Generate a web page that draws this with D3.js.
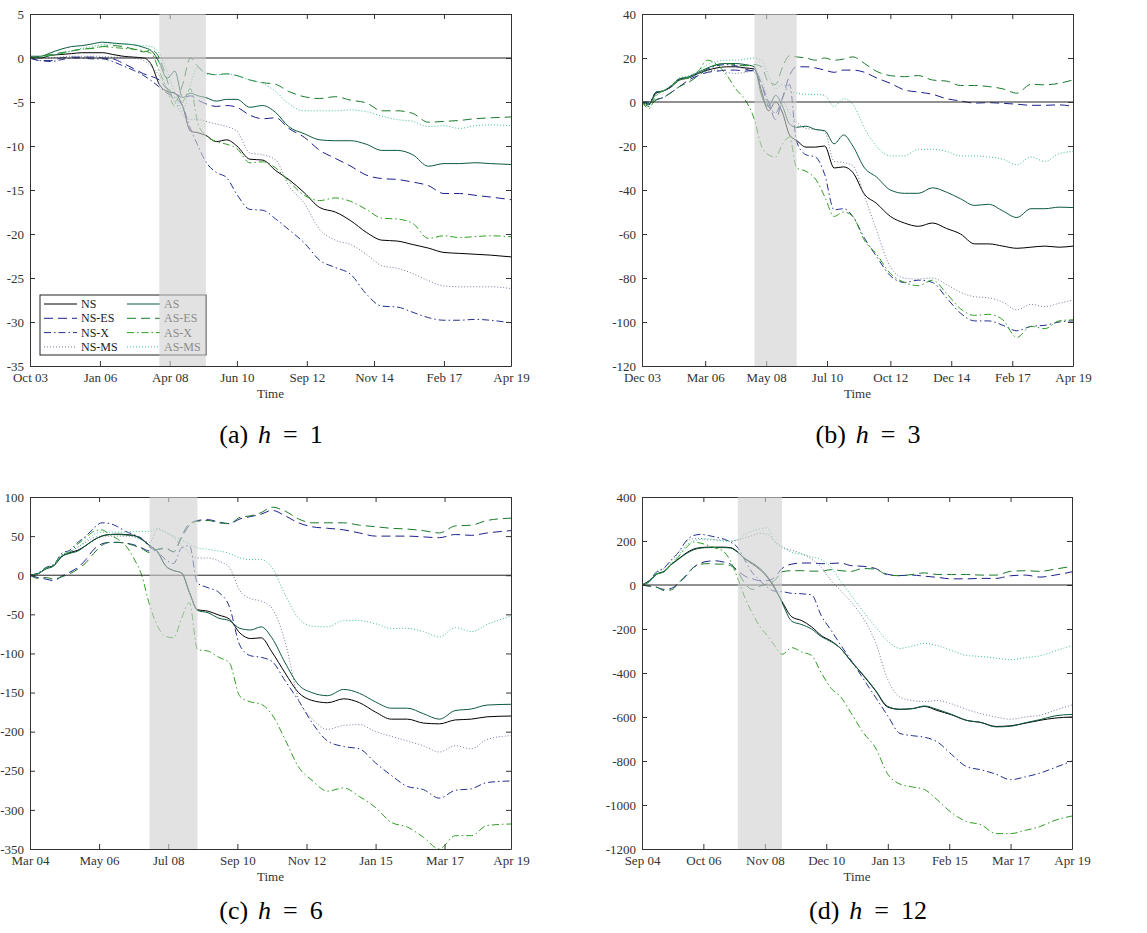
<!DOCTYPE html>
<html>
<head>
<meta charset="utf-8">
<script src="https://cdn.jsdelivr.net/npm/d3@7"></script>
<style>
body { margin: 0; background: #fff; }
svg text { font-family: "Liberation Serif", "Times New Roman", serif; }
</style>
</head>
<body>
<svg id="fig" width="1147" height="933"></svg>
<script>
"use strict";

const SERIES = ["NS", "NS-ES", "NS-X", "NS-MS", "AS", "AS-ES", "AS-X", "AS-MS"];
const RECESSION = ["2007-12", "2009-06"];
const END_MONTH = "2019-04";
const SERIF = "'Liberation Serif', 'Times New Roman', serif";

// (a) h = 1, months counted from Oct 2003
const A_TICKS = ["2003-10", "2006-01", "2008-04", "2010-06", "2012-09", "2014-11", "2017-02", "2019-04"];
const A_MONTHS = [0, 4, 8, 12, 16, 20, 24, 28, 32, 36, 40, 44, 47, 50, 53, 56, 59, 62, 65, 68, 72, 76, 80, 85, 90, 95, 100, 106, 112, 118, 124, 130, 136, 142, 148, 154, 160, 166, 172, 178, 186];
const A_NS = [0.1, 0.0, 0.3, 0.4, 0.5, 0.6, 0.6, 0.6, 0.4, 0.2, 0.1, 0.0, -0.8, -3.0, -3.8, -4.0, -5.5, -8.3, -8.5, -8.8, -9.5, -9.3, -10.0, -11.5, -11.6, -12.8, -13.8, -15.3, -17.0, -17.5, -18.5, -19.8, -20.7, -20.8, -21.2, -21.6, -22.1, -22.2, -22.3, -22.4, -22.6];
const A_NS_ES = [0.0, -0.3, -0.3, 0.0, 0.1, 0.1, 0.1, 0.0, -0.1, -0.6, -1.2, -1.8, -2.1, -2.5, -3.5, -4.0, -4.5, -4.3, -4.8, -5.2, -5.5, -5.4, -5.6, -6.5, -6.9, -6.8, -8.0, -9.0, -10.5, -11.4, -12.3, -13.3, -13.7, -13.8, -14.1, -14.5, -15.4, -15.4, -15.6, -15.8, -16.1];
const A_NS_X = [0.0, -0.3, -0.4, -0.2, 0.0, 0.0, -0.1, -0.1, -0.4, -0.9, -1.4, -2.0, -2.6, -3.3, -4.0, -4.5, -5.5, -8.0, -10.0, -11.8, -13.0, -13.6, -15.5, -17.2, -17.3, -18.3, -19.5, -21.0, -23.0, -23.8, -24.6, -26.8, -28.2, -28.3, -28.9, -29.5, -29.8, -29.8, -29.7, -29.8, -30.1];
const A_NS_MS = [0.1, 0.0, 0.0, 0.1, 0.2, 0.2, 0.2, 0.2, 0.1, 0.1, 0.0, -0.3, -1.0, -2.0, -3.5, -5.0, -6.5, -7.0, -7.0, -7.2, -7.5, -7.8, -8.3, -10.8, -11.0, -11.6, -14.5, -16.5, -19.5, -20.7, -21.2, -22.3, -23.6, -23.9, -24.5, -25.3, -25.9, -26.0, -26.0, -26.0, -26.2];
const A_AS = [0.2, 0.2, 0.6, 1.0, 1.3, 1.4, 1.6, 1.8, 1.7, 1.6, 1.5, 1.2, 0.8, -0.5, -2.3, -1.5, -4.5, -4.0, -4.3, -4.5, -4.9, -4.7, -4.7, -5.6, -5.4, -6.2, -7.8, -8.6, -9.3, -9.4, -9.4, -9.8, -10.5, -10.5, -11.0, -12.3, -12.0, -12.0, -11.9, -12.0, -12.1];
const A_AS_ES = [0.0, 0.2, 0.4, 0.6, 0.8, 1.0, 1.1, 1.3, 1.4, 1.3, 1.0, 0.7, 0.9, 0.0, -2.5, -5.0, -3.0, 0.0, -1.0, -1.7, -1.9, -1.8, -2.0, -2.5, -2.8, -3.0, -3.8, -4.4, -4.6, -4.4, -4.8, -5.1, -6.0, -6.0, -6.3, -7.3, -7.2, -7.1, -6.9, -6.8, -6.7];
const A_AS_X = [0.0, 0.1, 0.3, 0.5, 0.8, 1.0, 1.1, 1.3, 1.2, 1.1, 1.0, 0.8, 0.5, -1.5, -3.5, -5.5, -5.0, -3.5, -7.5, -8.8, -9.5, -9.8, -10.3, -11.9, -11.8, -12.5, -14.0, -15.6, -16.2, -15.9, -16.3, -17.2, -18.2, -18.3, -18.8, -20.5, -20.2, -20.4, -20.3, -20.2, -20.3];
const A_AS_MS = [0.0, 0.1, 0.3, 0.5, 0.8, 1.1, 1.3, 1.5, 1.6, 1.6, 1.5, 1.4, 1.3, 0.5, -1.5, -4.0, -6.0, -3.0, -1.0, -1.8, -1.9, -1.8, -2.0, -2.5, -2.9, -3.8, -5.2, -6.0, -6.0, -6.0, -5.9, -6.1, -6.6, -7.0, -7.2, -7.8, -7.7, -8.0, -7.7, -7.6, -7.7];

// (b) h = 3, months counted from Dec 2003
const B_TICKS = ["2003-12", "2006-03", "2008-05", "2010-07", "2012-10", "2014-12", "2017-02", "2019-04"];
const B_MONTHS = [0, 3, 6, 9, 12, 16, 20, 24, 28, 32, 36, 40, 44, 48, 51, 54, 57, 60, 63, 66, 70, 74, 78, 82, 86, 90, 95, 100, 106, 112, 118, 124, 130, 136, 142, 148, 154, 160, 166, 172, 178, 184];
const B_NS = [0, -1, 4, 5, 6.5, 10, 11, 13, 14.5, 15.5, 16, 16, 15.5, 15, 5, -4, 0, -5, -15, -17.5, -20.5, -20.5, -20, -30, -29.5, -32, -42, -46, -52, -55, -56.5, -55, -57.5, -60, -64.5, -64.5, -65.5, -66.5, -66, -65.5, -66, -65.5];
const B_NS_ES = [0, -1, 1, 2, 4, 7, 10, 12, 13.5, 14, 14.5, 14.5, 14, 14.5, 8, 0, -8, 2, 12, 16, 16, 15.5, 14.5, 13.5, 14.5, 14.5, 13.5, 11, 8.5, 5.5, 4.5, 3.5, 1.5, 0.5, -0.5, -0.3, -0.6, -1, -1.5, -1.5, -1.3, -2];
const B_NS_X = [0, 0, 4.5, 5, 7, 10.5, 11, 13, 15, 16.5, 17, 16.5, 15, 13.5, 8, -2, -5, 2, 8, -18, -24, -25, -33, -49, -48.5, -52, -62, -70, -79, -82, -81, -82, -89, -96, -99.5, -99.5, -101.5, -104, -102, -101.5, -100, -99.5];
const B_NS_MS = [0, 0, 3, 5, 7, 10, 11, 13, 14, 14.5, 13.5, 13, 13.5, 14, 10, 0, -5, 0, -5, -9, -12, -12.5, -13.5, -27, -27.5, -29, -43, -58, -75, -80, -80.5, -80, -83, -86.5, -88.5, -89, -91, -94.5, -92, -93, -91.5, -90];
const B_AS = [0, -1, 4.5, 5, 7, 10.5, 11.5, 13.5, 15.5, 17, 17.5, 17.5, 17, 16, 3, -2, 3, -2, -10, -11.5, -11, -12.5, -13, -19, -15, -20, -30, -34, -40, -41.5, -41.5, -39, -41, -44, -47, -46.5, -49.5, -52.5, -48.5, -48.5, -47.8, -48];
const B_AS_ES = [0, -2, 1, 2, 4, 7, 9, 12, 15, 17, 17.5, 17, 16.5, 17, 16, 9, 8, 16, 21, 20.5, 20, 19, 20, 19, 19.5, 20.5, 17.5, 14, 12, 11.5, 12, 10, 9.5, 7.5, 7.5, 7, 6, 4, 8, 7.8, 8.5, 10];
const B_AS_X = [0, -3, 3, 5, 7, 10, 11, 14, 19, 17, 12.5, 6, 1, -8, -20, -24, -25, -19, -16, -30, -31.5, -35, -43, -52, -50, -52, -63, -69, -78, -82, -83.5, -81, -87, -94, -97, -96.5, -99, -107, -102, -103, -99.5, -99];
const B_AS_MS = [0, -1, 3, 5, 7, 11, 12, 14, 17, 18.5, 19, 19, 19.5, 20, 19, 12, 6, 8, 5, 4, 3.5, 3.5, 3, -2, 1.5, -1, -12, -20, -24.5, -24.5, -21.5, -21.5, -22.5, -24.5, -24.5, -25, -26, -28.5, -25, -27, -23.5, -22.5];

// (c) h = 6, months counted from Mar 2004
const C_TICKS = ["2004-03", "2006-05", "2008-07", "2010-09", "2012-11", "2015-01", "2017-03", "2019-04"];
const C_MONTHS = [0, 3, 6, 9, 12, 15, 18, 21, 24, 27, 30, 33, 36, 39, 42, 45, 48, 51, 54, 57, 60, 63, 67, 71, 75, 79, 83, 87, 91, 96, 101, 106, 112, 118, 124, 130, 136, 142, 148, 154, 160, 166, 172, 181];
const C_NS = [0, 2, 9, 13, 24, 29, 32, 38, 45, 50, 52, 52.5, 52, 51, 46, 38, 30, 12, 6, 3, -22, -44, -46, -51, -56, -74, -81, -80, -98, -125, -150, -160, -163, -158, -163, -175, -184, -184, -189, -190, -185, -184, -181, -180];
const C_NS_ES = [0, -3, -5, -7, -1, 4, 10, 20, 33, 40, 42, 42, 41, 39, 35, 31, 33, 34, 30, 48, 64, 70, 71, 68, 66, 72, 75, 78, 83, 76, 67, 62, 60, 58, 54, 50, 50, 50, 49, 48, 52, 51, 54, 57];
const C_NS_X = [0, 3, 10, 14, 28, 32, 42, 50, 60, 67, 66, 62, 56, 52, 47, 36, 30, 20, 15, 35, 38, -10, -16, -22, -40, -90, -103, -105, -110, -135, -160, -188, -212, -219, -222, -240, -256, -270, -274, -285, -275, -273, -265, -263];
const C_NS_MS = [0, 2, 9, 13, 26, 30, 36, 42, 48, 50, 50, 50, 50, 49, 45, 42, 58, 55, 48, 38, 28, 22, 22, 18, 10, -20, -30, -33, -42, -85, -158, -183, -197, -192, -191, -200, -206, -212, -218, -226, -218, -222, -210, -205];
const C_AS = [0, 2, 8, 12, 24, 28, 31, 38, 45, 50, 52, 52, 51.5, 50.5, 46, 38, 30, 12, 6, 3, -22, -45, -48, -55, -58, -68, -70, -66, -80, -112, -140, -150, -154, -146, -151, -162, -170, -170, -177, -184, -173, -171, -166, -165];
const C_AS_ES = [0, -4, -3, -5, -2, 2, 8, 16, 28, 38, 42, 42, 41, 38, 34, 29, 33, 35, 30, 50, 66, 69, 70, 67, 66, 74, 76, 80, 87, 82, 72, 67, 67, 67, 64, 62, 60, 59, 57, 54, 63, 64, 70, 73];
const C_AS_X = [0, 2, 9, 13, 26, 30, 40, 48, 56, 58, 52, 46, 38, 22, 0, -38, -65, -78, -80, -55, -35, -95, -97, -105, -112, -155, -162, -165, -178, -210, -245, -262, -276, -272, -283, -297, -316, -322, -335, -350, -333, -333, -320, -318];
const C_AS_MS = [0, 2, 9, 13, 26, 30, 36, 44, 52, 55, 55, 55, 55, 56, 56, 56, 60, 55, 50, 45, 40, 35, 33, 31, 28, 22, 20, 20, 10, -25, -55, -65, -66, -58, -58, -62, -68, -68, -72, -79, -67, -72, -63, -52];

// (d) h = 12, months counted from Sep 2004
const D_TICKS = ["2004-09", "2006-10", "2008-11", "2010-12", "2013-01", "2015-02", "2017-03", "2019-04"];
const D_MONTHS = [0, 3, 6, 9, 12, 15, 18, 21, 24, 27, 30, 33, 36, 39, 42, 45, 48, 51, 54, 57, 61, 65, 69, 73, 77, 81, 85, 90, 95, 100, 105, 110, 115, 120, 126, 132, 138, 144, 150, 156, 162, 168, 175];
const D_NS = [0, 20, 50, 62, 95, 120, 145, 163, 170, 172, 172, 172, 170, 150, 118, 95, 70, 35, -15, -75, -145, -162, -190, -230, -255, -290, -345, -410, -480, -555, -565, -562, -552, -570, -590, -615, -625, -643, -640, -628, -615, -605, -600];
const D_NS_ES = [0, -5, -10, -20, -15, 10, 40, 80, 100, 108, 110, 105, 95, 65, 40, 28, 20, 20, 35, 75, 95, 100, 100, 97, 98, 100, 88, 85, 75, 48, 43, 45, 40, 35, 28, 28, 30, 30, 42, 45, 36, 45, 60];
const D_NS_X = [0, 20, 60, 78, 115, 150, 200, 225, 230, 225, 218, 210, 195, 170, 110, 55, 20, -10, -28, -30, -38, -40, -45, -140, -207, -275, -340, -425, -510, -595, -675, -685, -692, -712, -770, -825, -840, -860, -885, -872, -855, -830, -800];
const D_NS_MS = [0, 20, 55, 75, 110, 150, 195, 210, 212, 205, 205, 205, 200, 205, 215, 225, 235, 230, 200, 170, 158, 142, 118, 80, 20, -28, -75, -150, -260, -430, -510, -525, -530, -525, -540, -565, -585, -600, -610, -600, -592, -570, -545];
const D_AS = [0, 15, 48, 60, 93, 118, 142, 160, 168, 170, 170, 170, 168, 148, 120, 100, 75, 40, -10, -80, -165, -180, -200, -235, -258, -290, -345, -408, -478, -552, -565, -562, -550, -565, -588, -615, -625, -645, -642, -626, -612, -595, -588];
const D_AS_ES = [0, -5, -10, -25, -22, 10, 45, 80, 95, 97, 95, 95, 88, 60, 5, -20, -5, 5, 20, 60, 65, 65, 63, 63, 70, 65, 62, 75, 72, 45, 42, 48, 55, 48, 48, 48, 45, 45, 62, 65, 62, 72, 85];
const D_AS_X = [0, 15, 50, 60, 95, 130, 170, 195, 190, 180, 168, 155, 110, 30, -60, -130, -190, -230, -275, -315, -285, -305, -320, -400, -470, -510, -580, -670, -740, -860, -905, -918, -930, -975, -1035, -1075, -1090, -1130, -1130, -1115, -1098, -1070, -1050];
const D_AS_MS = [0, 15, 50, 65, 100, 135, 180, 200, 208, 210, 205, 200, 198, 205, 230, 245, 255, 260, 195, 175, 148, 140, 128, 115, 80, 15, -45, -120, -190, -255, -288, -278, -265, -275, -298, -320, -325, -332, -340, -330, -322, -300, -275];

const STYLE = {
	"NS":    { color: "#000000", dash: null },
	"NS-ES": { color: "#1c1f8c", dash: "9,5" },
	"NS-X":  { color: "#22308c", dash: "7,3,1.5,3" },
	"NS-MS": { color: "#6f7c9c", dash: "1,2" },
	"AS":    { color: "#0c5a3a", dash: null },
	"AS-ES": { color: "#1a7a2a", dash: "9,5" },
	"AS-X":  { color: "#2f9e22", dash: "7,3,1.5,3" },
	"AS-MS": { color: "#3cc08e", dash: "1,2" }
};

const PANELS = [
	{ key: "a", h: "1", start: "2003-10", months: A_MONTHS, ticks: A_TICKS, domain: [-35, 5], step: 5,
		values: [A_NS, A_NS_ES, A_NS_X, A_NS_MS, A_AS, A_AS_ES, A_AS_X, A_AS_MS],
		box: [30, 511, 14, 366], cap: [271, 443], legend: true },
	{ key: "b", h: "3", start: "2003-12", months: B_MONTHS, ticks: B_TICKS, domain: [-120, 40], step: 20,
		values: [B_NS, B_NS_ES, B_NS_X, B_NS_MS, B_AS, B_AS_ES, B_AS_X, B_AS_MS],
		box: [642, 1073, 14, 366], cap: [868, 443] },
	{ key: "c", h: "6", start: "2004-03", months: C_MONTHS, ticks: C_TICKS, domain: [-350, 100], step: 50,
		values: [C_NS, C_NS_ES, C_NS_X, C_NS_MS, C_AS, C_AS_ES, C_AS_X, C_AS_MS],
		box: [30, 511, 497, 849], cap: [271, 919] },
	{ key: "d", h: "12", start: "2004-09", months: D_MONTHS, ticks: D_TICKS, domain: [-1200, 400], step: 200,
		values: [D_NS, D_NS_ES, D_NS_X, D_NS_MS, D_AS, D_AS_ES, D_AS_X, D_AS_MS],
		box: [642, 1072, 497, 849], cap: [868, 919] }
];

const parseMonth = d3.timeParse("%Y-%m");
const fmtMonth = d3.timeFormat("%b %y");
const svg = d3.select("#fig");

PANELS.forEach(drawPanel);

function drawPanel(p) {
	const [x0, x1, y0, y1] = p.box;
	const start = parseMonth(p.start);
	const x = d3.scaleTime().domain([start, parseMonth(END_MONTH)]).range([x0, x1]);
	const y = d3.scaleLinear().domain(p.domain).range([y1, y0]);
	const g = svg.append("g").attr("class", "panel-" + p.key);

	svg.append("clipPath").attr("id", "clip-" + p.key)
		.append("rect")
		.attr("x", x0).attr("y", y0)
		.attr("width", x1 - x0).attr("height", y1 - y0);

	const plot = g.append("g").attr("clip-path", `url(#clip-${p.key})`);
	const line = d3.line()
		.curve(d3.curveMonotoneX)
		.x(d => x(d[0]))
		.y(d => y(d[1]));

	SERIES.forEach((s, i) => {
		const pts = p.months.map((m, j) => [d3.timeMonth.offset(start, m), p.values[i][j]]);
		plot.append("path")
			.attr("d", line(pts))
			.attr("fill", "none")
			.attr("stroke", STYLE[s].color)
			.attr("stroke-width", 1)
			.attr("stroke-dasharray", STYLE[s].dash);
	});

	// zero line
	plot.append("line")
		.attr("x1", x0).attr("x2", x1)
		.attr("y1", y(0)).attr("y2", y(0))
		.attr("stroke", "#222").attr("stroke-width", 1);

	const tickDates = p.ticks.map(parseMonth);
	const yTicks = d3.range(p.domain[0], p.domain[1] + p.step / 2, p.step);

	const axes = [
		g.append("g").attr("transform", `translate(0,${y1})`)
			.call(d3.axisBottom(x).tickValues(tickDates).tickFormat(fmtMonth).tickSizeInner(-5).tickSizeOuter(0).tickPadding(6.5)),
		g.append("g").attr("transform", `translate(0,${y0})`)
			.call(d3.axisTop(x).tickValues(tickDates).tickFormat("").tickSizeInner(-5).tickSizeOuter(0)),
		g.append("g").attr("transform", `translate(${x0},0)`)
			.call(d3.axisLeft(y).tickValues(yTicks).tickFormat(d => String(d)).tickSizeInner(-5).tickSizeOuter(0).tickPadding(6)),
		g.append("g").attr("transform", `translate(${x1},0)`)
			.call(d3.axisRight(y).tickValues(yTicks).tickFormat("").tickSizeInner(-5).tickSizeOuter(0))
	];
	axes.forEach(a => a
		.attr("font-family", SERIF)
		.attr("font-size", 13)
		.attr("color", "#333"));

	g.append("text")
		.attr("x", (x0 + x1) / 2)
		.attr("y", y1 + 32)
		.attr("text-anchor", "middle")
		.attr("font-family", SERIF)
		.attr("font-size", 13)
		.attr("fill", "#333")
		.text("Time");

	if (p.legend) drawLegend(g, x0, y1);

	// recession band drawn over everything inside the axes
	g.append("rect")
		.attr("x", x(parseMonth(RECESSION[0])))
		.attr("y", y0)
		.attr("width", x(parseMonth(RECESSION[1])) - x(parseMonth(RECESSION[0])))
		.attr("height", y1 - y0)
		.attr("fill", "#cfcfcf")
		.attr("opacity", 0.6);

	const cap = svg.append("text")
		.attr("x", p.cap[0]).attr("y", p.cap[1])
		.attr("text-anchor", "middle")
		.attr("font-family", SERIF)
		.attr("font-size", 26)
		.attr("fill", "#000");
	cap.append("tspan").text(`(${p.key})`);
	cap.append("tspan").attr("dx", 10).attr("font-style", "italic").text("h");
	cap.append("tspan").attr("dx", 12).text("=");
	cap.append("tspan").attr("dx", 12).text(p.h);
}

function drawLegend(g, x0, y1) {
	const lg = g.append("g").attr("transform", `translate(${x0 + 10},${y1 - 71})`);
	lg.append("rect")
		.attr("width", 166).attr("height", 60)
		.attr("fill", "#fff").attr("stroke", "#222").attr("stroke-width", 1);
	SERIES.forEach((s, i) => {
		const col = Math.floor(i / 4), row = i % 4;
		const lx = 4 + col * 83, ly = 9 + row * 14.3;
		lg.append("line")
			.attr("x1", lx).attr("x2", lx + 33)
			.attr("y1", ly).attr("y2", ly)
			.attr("stroke", STYLE[s].color)
			.attr("stroke-width", 1)
			.attr("stroke-dasharray", STYLE[s].dash);
		lg.append("text")
			.attr("x", lx + 37).attr("y", ly + 4)
			.attr("font-family", SERIF)
			.attr("font-size", 12)
			.attr("fill", "#222")
			.text(s);
	});
}
</script>
</body>
</html>
